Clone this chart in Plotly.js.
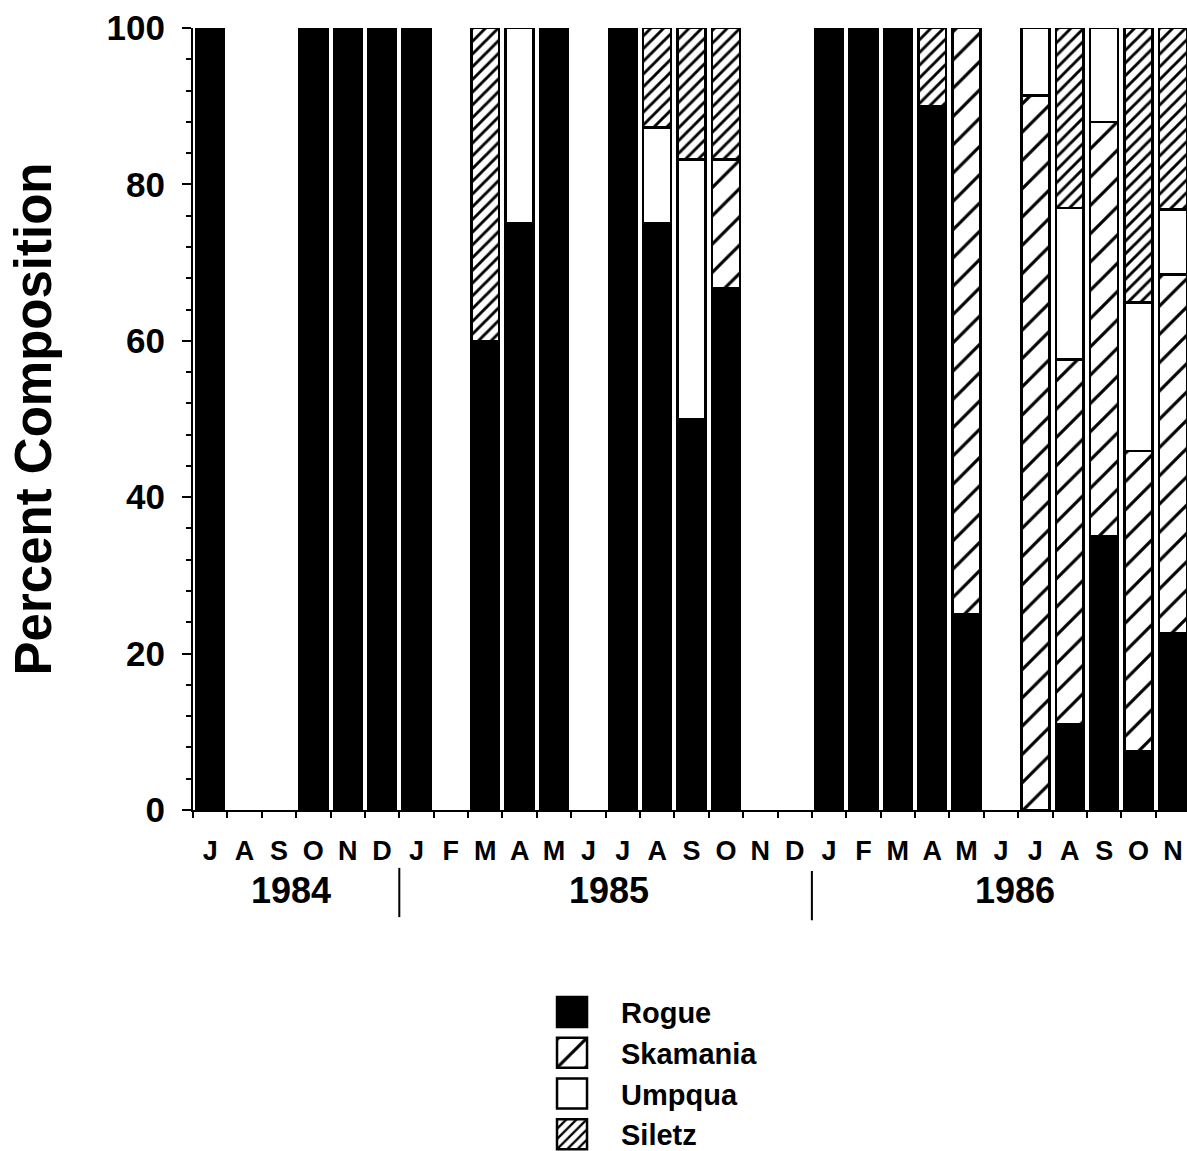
<!DOCTYPE html>
<html>
<head>
<meta charset="utf-8">
<script src="https://cdn.plot.ly/plotly-3.0.1.min.js"></script>
<style>
  html, body { margin: 0; padding: 0; background: #fff; }
  #chart { width: 1187px; height: 1151px; }
</style>
</head>
<body>
<div id="chart"></div>
<script>
// Months from July 1984 to November 1986
const months = [
  "1984-07","1984-08","1984-09","1984-10","1984-11","1984-12",
  "1985-01","1985-02","1985-03","1985-04","1985-05","1985-06",
  "1985-07","1985-08","1985-09","1985-10","1985-11","1985-12",
  "1986-01","1986-02","1986-03","1986-04","1986-05","1986-06",
  "1986-07","1986-08","1986-09","1986-10","1986-11"
];
const monthLabels = [
  "J","A","S","O","N","D",
  "J","F","M","A","M","J","J","A","S","O","N","D",
  "J","F","M","A","M","J","J","A","S","O","N"
];
const years = ["1984", "1985", "1986"];

// Percent composition by stock (null = no sample that month)
const rogue = [
  100, null, null, 100, 100, 100,
  100, null, 60, 75, 100, null, 100, 75, 50, 66.7, null, null,
  100, 100, 100, 90, 25, null, 0, 11, 35, 7.5, 22.6
];
const skamania = [
  0, null, null, 0, 0, 0,
  0, null, 0, 0, 0, null, 0, 0, 0, 16.5, null, null,
  0, 0, 0, 0, 75, null, 91.4, 46.6, 53, 38.4, 45.9
];
const umpqua = [
  0, null, null, 0, 0, 0,
  0, null, 0, 25, 0, null, 0, 12.3, 33.2, 0, null, null,
  0, 0, 0, 0, 0, null, 8.6, 19.4, 12, 19, 8.3
];
const siletz = [
  0, null, null, 0, 0, 0,
  0, null, 40, 0, 0, null, 0, 12.7, 16.8, 16.8, null, null,
  0, 0, 0, 10, 0, null, 0, 23, 0, 35.1, 23.2
];

const outline = { color: "#000", width: 2.5 };
const FONT = "Liberation Sans, Arial, Helvetica, sans-serif";

const traces = [
  {
    name: "Rogue", type: "bar", x: months, y: rogue,
    marker: { color: "#000", line: outline }
  },
  {
    name: "Skamania", type: "bar", x: months, y: skamania,
    marker: {
      color: "#fff", line: outline,
      pattern: { shape: "/", size: 20, solidity: 0.16, fgcolor: "#000", bgcolor: "#fff", fillmode: "replace" }
    }
  },
  {
    name: "Umpqua", type: "bar", x: months, y: umpqua,
    marker: { color: "#fff", line: outline }
  },
  {
    name: "Siletz", type: "bar", x: months, y: siletz,
    marker: {
      color: "#fff", line: outline,
      pattern: { shape: "/", size: 9, solidity: 0.32, fgcolor: "#000", bgcolor: "#fff", fillmode: "replace" }
    }
  }
];

const layout = {
  width: 1187, height: 1151,
  margin: { l: 193, r: 0, t: 28, b: 341, autoexpand: false },
  paper_bgcolor: "#fff", plot_bgcolor: "#fff",
  barmode: "stack",
  bargap: 0.19,
  showlegend: true,
  hovermode: false,
  font: { family: FONT, color: "#000" },
  xaxis: {
    type: "category",
    range: [-0.5, 28.41],
    tickmode: "array",
    tickvals: months,
    ticktext: monthLabels,
    tickson: "boundaries",
    ticks: "outside", ticklen: 6, tickwidth: 2, tickcolor: "#000",
    showline: true, linecolor: "#000", linewidth: 2,
    showgrid: false, zeroline: false,
    tickangle: 0,
    ticklabelstandoff: 16,
    tickfont: { family: FONT, size: 27, weight: "bold", color: "#000" }
  },
  yaxis: {
    range: [0, 100],
    tickmode: "linear", tick0: 0, dtick: 20,
    ticks: "outside", ticklen: 9, tickwidth: 2, tickcolor: "#000",
    minor: { dtick: 4, ticks: "outside", ticklen: 5, tickwidth: 2, tickcolor: "#000", showgrid: false },
    showline: true, linecolor: "#000", linewidth: 2,
    showgrid: false, zeroline: false,
    ticklabelstandoff: 10,
    tickfont: { family: FONT, size: 35, weight: "bold", color: "#000" },
    title: {
      text: "Percent Composition",
      standoff: 39,
      font: { family: FONT, size: 51, weight: "bold", color: "#000" }
    }
  },
  legend: {
    x: 0.33, y: -0.226, xanchor: "left", yanchor: "top",
    orientation: "v",
    traceorder: "normal",
    itemwidth: 90,
    bgcolor: "rgba(0,0,0,0)",
    font: { family: FONT, size: 29, weight: "bold", color: "#000" }
  },
  annotations: [
    { text: years[0], x: 2.35, xref: "x", y: -0.1035, yref: "paper", showarrow: false, xanchor: "center", yanchor: "middle",
      font: { family: FONT, size: 36, weight: "bold", color: "#000" } },
    { text: years[1], x: 11.6, xref: "x", y: -0.1035, yref: "paper", showarrow: false, xanchor: "center", yanchor: "middle",
      font: { family: FONT, size: 36, weight: "bold", color: "#000" } },
    { text: years[2], x: 23.4, xref: "x", y: -0.1035, yref: "paper", showarrow: false, xanchor: "center", yanchor: "middle",
      font: { family: FONT, size: 36, weight: "bold", color: "#000" } }
  ],
  shapes: [
    { type: "line", xref: "x", yref: "paper", x0: 5.5, x1: 5.5, y0: -0.074, y1: -0.137, line: { color: "#000", width: 2 } },
    { type: "line", xref: "x", yref: "paper", x0: 17.5, x1: 17.5, y0: -0.078, y1: -0.141, line: { color: "#000", width: 2 } }
  ]
};

Plotly.newPlot("chart", traces, layout, { displayModeBar: false, staticPlot: true }).then(function (gd) {
  // no clipping inside the legend, so the enlarged swatches show fully
  gd.querySelectorAll(".legend [clip-path]").forEach(function (el) { el.removeAttribute("clip-path"); });
  // enlarge the legend swatches to the reference's large squares, placed left of the text
  gd.querySelectorAll(".legend .traces").forEach(function (tr) {
    const txt = tr.querySelector("text.legendtext");
    const lp = tr.querySelector(".legendpoints");
    if (!txt || !lp) return;
    const tb = txt.getBBox();
    const label = (txt.textContent || "").trim();
    let y0 = 0;
    const old = lp.getAttribute("transform");
    if (old) {
      const m = /translate\(\s*([-\d.e]+)[ ,]+([-\d.e]+)/.exec(old);
      if (m) y0 = parseFloat(m[2]);
    }
    lp.setAttribute("transform", "translate(" + (tb.x - 49) + "," + y0 + ")");
    lp.querySelectorAll("path").forEach(function (p) {
      if (label === "Skamania") {
        // sparse hatch: scale the small swatch so a single diagonal crosses it
        p.setAttribute("d", "M6,6H-6V-6H6Z");
        p.setAttribute("transform", "scale(2.5)");
        p.style.strokeWidth = "1px";
      } else {
        p.setAttribute("d", "M15,15H-15V-15H15Z");
        p.removeAttribute("transform");
        p.style.strokeWidth = "2.5px";
      }
    });
  });
});
</script>
</body>
</html>
